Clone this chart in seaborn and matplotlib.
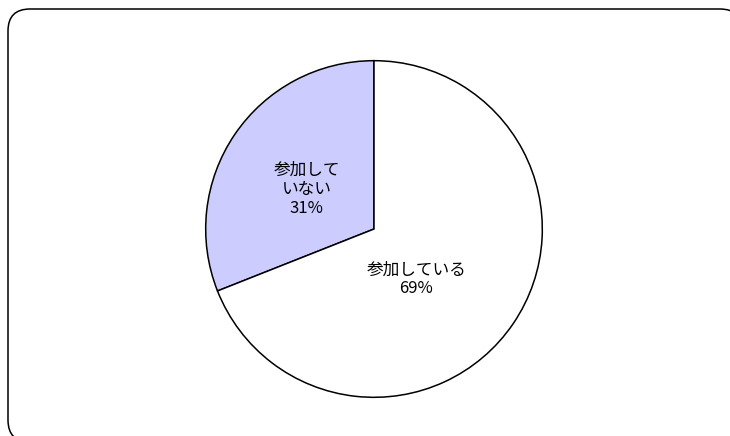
import numpy as np
import pandas as pd
import matplotlib.pyplot as plt
import seaborn as sns
from matplotlib.patches import FancyBboxPatch
from matplotlib.transforms import IdentityTransform

# data
labels = ['参加して\nいない', '参加している']
values = [31, 69]
colors = ['#ccccff', '#ffffff']

# where the labels sit, in pie units (Excel "best fit" style)
label_pos = [(-0.40, 0.235), (0.25, -0.30)]

sns.set_theme(style='white')
plt.rcParams['font.family'] = ['Noto Sans CJK JP', 'DejaVu Sans']

fig = plt.figure(figsize=(7.3, 4.36), dpi=100)

# rounded frame round the chart area, in pixels (right/bottom run off the canvas)
# filled white so agg doesn't clip it to the canvas edge; kept behind the axes
frame = FancyBboxPatch((8, -6), 734, 433,
                       boxstyle='round,pad=0,rounding_size=22',
                       transform=IdentityTransform(), facecolor='white',
                       edgecolor='black', linewidth=1.1, zorder=-1)
fig.patches.append(frame)

ax = fig.add_axes([204 / 730, 37 / 436, 340 / 730, 340 / 436])
wedges, _ = ax.pie(values, colors=colors, startangle=90, counterclock=True,
                   wedgeprops={'edgecolor': 'black', 'linewidth': 1.1})
ax.set_xlim(-1.01, 1.01)
ax.set_ylim(-1.01, 1.01)
ax.set_aspect('equal')
ax.axis('off')

for (x, y), lab, v in zip(label_pos, labels, values):
    ax.text(x, y, f'{lab}\n{v}%', ha='center', va='center',
            fontsize=12, linespacing=1.15, color='black')

fig.savefig('out.png', dpi=100)
